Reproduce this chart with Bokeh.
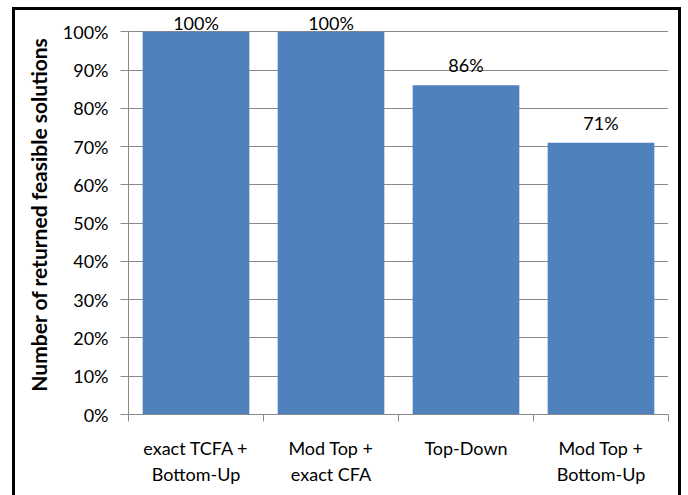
from bokeh.plotting import figure
from bokeh.models import ColumnDataSource, FixedTicker, LabelSet, NumeralTickFormatter, Range1d
from bokeh.core.properties import value
from bokeh.embed import file_html
from bokeh.resources import INLINE
import numpy as np

# Share of runs that returned a feasible solution, per method
methods = ["exact TCFA +\nBottom-Up", "Mod Top +\nexact CFA", "Top-Down", "Mod Top +\nBottom-Up"]
feasible_share = [1.00, 1.00, 0.86, 0.71]
value_labels = ["100%", "100%", "86%", "71%"]
y_ticks = [0.0, 0.1, 0.2, 0.3, 0.4, 0.5, 0.6, 0.7, 0.8, 0.9, 1.0]

FONT = "Lato"
BAR = "#4F81BD"
AXIS_GREY = "#8a8a8a"

xpos = np.arange(1, len(methods) + 1)
vals = np.array(feasible_share)
# labels sit above each bar, but are kept inside the chart near the top
label_y = np.minimum(vals + 0.052, 1.0235)

src = ColumnDataSource(dict(x=xpos, top=vals, ly=label_y, txt=value_labels))

# a little headroom above 100% so the top labels have room
p = figure(width=669, height=490, output_backend="svg", toolbar_location=None,
           x_range=Range1d(0.5, len(methods) + 0.5), y_range=Range1d(0, 1.045),
           min_border_left=113, min_border_right=16, min_border_top=4, min_border_bottom=86,
           background_fill_color="white", border_fill_color="white",
           outline_line_color=None)
p.margin = (7, 0, 0, 12)
p.styles = {"border": "3px solid black", "border-bottom": "none"}

p.vbar(x="x", top="top", width=0.79, bottom=0, source=src,
       fill_color=BAR, line_color=None)

labels = LabelSet(x="x", y="ly", text="txt", source=src, text_align="center",
                  text_baseline="middle", text_font=value(FONT), text_font_size="18px",
                  text_color="black")
p.add_layout(labels)

# y axis
p.yaxis.bounds = (0, 1)
p.yaxis.ticker = FixedTicker(ticks=y_ticks)
p.yaxis.formatter = NumeralTickFormatter(format="0%")
p.yaxis.axis_line_color = AXIS_GREY
p.yaxis.major_tick_line_color = AXIS_GREY
p.yaxis.major_tick_out = 8
p.yaxis.major_tick_in = 0
p.yaxis.minor_tick_line_color = None
p.yaxis.major_label_text_font = FONT
p.yaxis.major_label_text_font_size = "18px"
p.yaxis.major_label_text_color = "black"
p.yaxis.major_label_standoff = 12
p.yaxis.axis_label = "Number of returned feasible solutions"
p.yaxis.axis_label_text_font = FONT
p.yaxis.axis_label_text_font_size = "21px"
p.yaxis.axis_label_text_font_style = "bold"
p.yaxis.axis_label_text_color = "black"
p.yaxis.axis_label_standoff = 9

# x axis: names under bar centres, tick marks between categories
p.xaxis.ticker = FixedTicker(ticks=list(xpos),
                             minor_ticks=list(np.arange(0.5, len(methods) + 1, 1.0)))
p.xaxis.major_label_overrides = {int(i): m for i, m in zip(xpos, methods)}
p.xaxis.axis_line_color = AXIS_GREY
p.xaxis.major_tick_line_color = None
p.xaxis.minor_tick_line_color = AXIS_GREY
p.xaxis.minor_tick_out = 7
p.xaxis.minor_tick_in = 0
p.xaxis.major_label_text_font = FONT
p.xaxis.major_label_text_font_size = "18px"
p.xaxis.major_label_text_color = "black"
p.xaxis.major_label_standoff = 15

p.xgrid.grid_line_color = None
p.ygrid.ticker = FixedTicker(ticks=y_ticks)
p.ygrid.grid_line_color = AXIS_GREY

open("out.html", "w").write(file_html(p, INLINE))
